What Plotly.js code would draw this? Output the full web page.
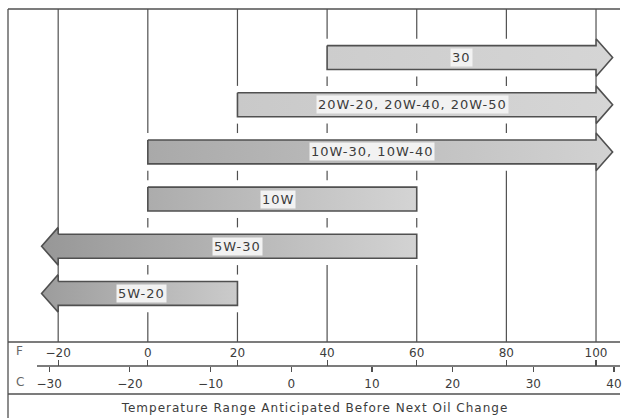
<!DOCTYPE html>
<html>
<head>
<meta charset="utf-8">
<script src="https://cdn.plot.ly/plotly-3.0.1.min.js"></script>
<style>
  html, body { margin: 0; padding: 0; background: #fff; }
  #chart { width: 625px; height: 418px; }
  .gtitle, .annotation-text { letter-spacing: 1px; }
</style>
</head>
<body>
<div id="chart"></div>
<script>
// ---- data ----
const grades   = ['30', '20W-20, 20W-40, 20W-50', '10W-30, 10W-40', '10W', '5W-30', '5W-20'];
const lowF     = [40, 20, 0, 0, -20, -20];
const highF    = [100, 100, 100, 60, 60, 20];
const openLow  = [false, false, false, false, true, true];
const openHigh = [true, true, true, false, false, false];
const fTicks   = [-20, 0, 20, 40, 60, 80, 100];
const cTicks   = [-30, -20, -10, 0, 10, 20, 30, 40];
const xTitle   = 'Temperature Range Anticipated Before Next Oil Change';

// ---- layout / style constants ----
const W = 625, H = 418, ML = 8, MR = 5, MT = 9, MB = 0;
const PH = H - MT - MB, PW = W - ML - MR;
const py = p => (H - MB - p) / PH;          // pixel y -> paper y
const px = p => (p - ML) / PW;              // pixel x -> paper x
const FofPx = p => 40 + (p - 327.1) / 4.482; // pixel x -> deg F
const toC = f => (f - 32) * 5 / 9;
const fRange = [FofPx(ML), FofPx(W - MR)];
const cRange = fRange.map(toC);
const yRange = [6.03, -1.03];
const HB = 0.254, HH = 0.40, HEAD = 3.7, GAP = 0.5; // body half, head half, head length, grid gap
const labelAtF = [70, 59, 50, 29, 20, -1.5];
const grads = [
  ['#cdcdcd', '#d5d5d5'], ['#c9c9c9', '#d6d6d6'], ['#a9a9a9', '#d2d2d2'],
  ['#acacac', '#d4d4d4'], ['#979797', '#d3d3d3'], ['#9c9c9c', '#cbcbcb']
];
const ink = '#505050', txt = '#3c3c3c';
const FONT = 'DejaVu Sans';

function arrowPoly(k) {
  const L = lowF[k], R = highF[k], y = k;
  const xs = [L, R], ys = [y - HB, y - HB];
  if (openHigh[k]) { xs.push(R, R + HEAD, R); ys.push(y - HH, y, y + HH); }
  xs.push(R, L); ys.push(y + HB, y + HB);
  if (openLow[k]) { xs.push(L, L - HEAD, L); ys.push(y + HH, y, y - HH); }
  xs.push(L); ys.push(y - HB);
  return {xs, ys};
}

// grid lines at each F tick, interrupted with a white gap around every bar they cross
const gx = [], gy = [];
fTicks.forEach(t => {
  let cursor = yRange[1];
  grades.forEach((g, k) => {
    if (t >= lowF[k] - GAP && t <= highF[k] + GAP) {
      if (k - HH > cursor) { gx.push(t, t, null); gy.push(cursor, k - HH, null); }
      cursor = k + HH;
    }
  });
  gx.push(t, t, null); gy.push(cursor, yRange[0], null);
});

const traces = [{
  type: 'scatter', mode: 'lines', x: gx, y: gy, line: {color: ink, width: 1.2},
  hoverinfo: 'skip', showlegend: false
}];
grades.forEach((g, k) => {
  const p = arrowPoly(k);
  traces.push({
    type: 'scatter', mode: 'lines', x: p.xs, y: p.ys, name: g,
    fill: 'toself', fillcolor: grads[k][1],
    fillgradient: {type: 'horizontal', colorscale: [[0, grads[k][0]], [1, grads[k][1]]]},
    line: {color: ink, width: 1.6}, hoverinfo: 'name', showlegend: false
  });
});
// dummy traces so the ruler axes are drawn
traces.push({type: 'scatter', mode: 'markers', x: [cTicks[0]], y: [0], xaxis: 'x2',
  marker: {opacity: 0}, hoverinfo: 'skip', showlegend: false});
traces.push({type: 'scatter', mode: 'markers', x: [fTicks[0]], y: [0], xaxis: 'x3',
  marker: {opacity: 0}, hoverinfo: 'skip', showlegend: false});

const annotations = grades.map((g, k) => ({
  x: labelAtF[k], y: k, xref: 'x', yref: 'y', text: g, showarrow: false,
  xanchor: 'center', yanchor: 'middle',
  font: {family: FONT, size: 13, color: txt}, bgcolor: '#f2f2f2', borderpad: 1
}));
annotations.push({x: px(20), y: py(351), xref: 'paper', yref: 'paper', text: 'F',
  xanchor: 'center', yanchor: 'middle', showarrow: false, font: {family: FONT, size: 12, color: '#666'}});
annotations.push({x: px(20), y: py(382), xref: 'paper', yref: 'paper', text: 'C',
  xanchor: 'center', yanchor: 'middle', showarrow: false, font: {family: FONT, size: 12, color: '#666'}});

const lineStyle = {color: ink, width: 1.3};
const shapes = [
  {type: 'line', xref: 'paper', yref: 'paper', x0: 0, x1: 0, y0: py(H), y1: 1, line: lineStyle},
  {type: 'line', xref: 'paper', yref: 'paper', x0: 0, x1: 1, y0: 1, y1: 1, line: lineStyle},
  {type: 'line', xref: 'paper', yref: 'paper', x0: 0, x1: 1, y0: py(342), y1: py(342), line: lineStyle},
  {type: 'line', xref: 'paper', yref: 'paper', x0: px(37), x1: 1, y0: py(366), y1: py(366), line: lineStyle},
  {type: 'line', xref: 'paper', yref: 'paper', x0: 0, x1: 1, y0: py(394), y1: py(394), line: lineStyle}
];

const layout = {
  width: W, height: H,
  margin: {l: ML, r: MR, t: MT, b: MB, pad: 0},
  paper_bgcolor: '#ffffff', plot_bgcolor: 'rgba(0,0,0,0)',
  showlegend: false,
  title: {text: xTitle, x: 315 / W, xanchor: 'center', y: 1 - 408 / H, yanchor: 'middle',
          yref: 'container', xref: 'container', font: {family: FONT, size: 12, color: txt}},
  xaxis: {
    range: fRange, tickvals: fTicks, ticks: '', showline: false, zeroline: false, showgrid: false,
    tickfont: {family: FONT, size: 12, color: txt}, ticklabelstandoff: 2
  },
  xaxis2: {
    overlaying: 'x', anchor: 'free', position: py(366), side: 'bottom',
    range: cRange, tickvals: cTicks, ticks: 'outside', ticklen: 5, tickwidth: 1.2, tickcolor: ink,
    showgrid: false, zeroline: false, showline: false,
    tickfont: {family: FONT, size: 12, color: txt}, ticklabelstandoff: 2
  },
  xaxis3: {
    overlaying: 'x', anchor: 'free', position: py(366), side: 'bottom',
    range: fRange, tickvals: fTicks, ticks: 'inside', ticklen: 6, tickwidth: 1.2, tickcolor: ink,
    showgrid: false, zeroline: false, showline: false, showticklabels: false
  },
  yaxis: {
    domain: [py(342), 1], range: yRange, visible: false, showgrid: false, zeroline: false
  },
  shapes: shapes,
  annotations: annotations
};

Plotly.newPlot('chart', traces, layout, {staticPlot: true, displayModeBar: false});
</script>
</body>
</html>
